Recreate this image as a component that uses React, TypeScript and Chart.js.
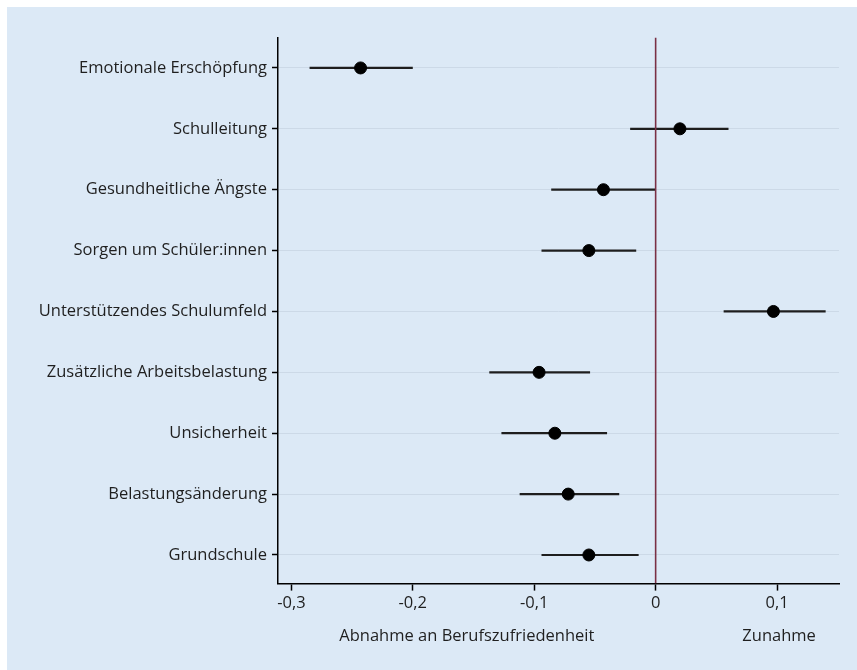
import React, { useEffect, useRef } from "react";
import { Chart, registerables } from "chart.js";

Chart.register(...registerables);

const categories = [
  "Emotionale Erschöpfung",
  "Schulleitung",
  "Gesundheitliche Ängste",
  "Sorgen um Schüler:innen",
  "Unterstützendes Schulumfeld",
  "Zusätzliche Arbeitsbelastung",
  "Unsicherheit",
  "Belastungsänderung",
  "Grundschule",
];
const estimates = [-0.243, 0.02, -0.043, -0.055, 0.097, -0.096, -0.083, -0.072, -0.055];
const ciLower = [-0.285, -0.021, -0.086, -0.094, 0.056, -0.137, -0.127, -0.112, -0.094];
const ciUpper = [-0.2, 0.06, 0.0, -0.016, 0.14, -0.054, -0.04, -0.03, -0.014];
const xTicks = [-0.3, -0.2, -0.1, 0, 0.1];
const xTickLabels = ["-0,3", "-0,2", "-0,1", "0", "0,1"];
const axisNotes = ["Abnahme an Berufszufriedenheit", "Zunahme"];

const X_MIN = -0.311;
const X_MAX = 0.151;
const Y_MIN = 0.5;
const Y_MAX = 9.47;

const FONT = "'Open Sans', 'Noto Sans', sans-serif";
const FONT_SIZE = 16.5;
const TEXT = "#1f1f1f";

export default function App() {
  const ref = useRef<HTMLCanvasElement | null>(null);

  useEffect(() => {
    if (!ref.current) return;

    const ciSets = categories.map((_, i) => ({
      type: "line" as const,
      data: [
        { x: ciLower[i], y: i + 1 },
        { x: ciUpper[i], y: i + 1 },
      ],
      borderColor: "#1e1e1e",
      borderWidth: 2.2,
      pointRadius: 0,
      showLine: true,
      order: 2,
    }));

    const zeroLine = {
      type: "line" as const,
      data: [
        { x: 0, y: Y_MIN },
        { x: 0, y: Y_MAX },
      ],
      borderColor: "#7a3045",
      borderWidth: 1.6,
      pointRadius: 0,
      showLine: true,
      order: 1,
    };

    const points = {
      type: "scatter" as const,
      data: estimates.map((v, i) => ({ x: v, y: i + 1 })),
      backgroundColor: "#000",
      borderColor: "#000",
      pointRadius: 6,
      pointHoverRadius: 6,
      order: 0,
    };

    const notesPlugin = {
      id: "notes",
      afterDraw(chart: any) {
        const { ctx, chartArea, scales } = chart;
        const xs = scales.x;
        ctx.save();
        ctx.font = `${FONT_SIZE}px ${FONT}`;
        ctx.fillStyle = TEXT;
        ctx.textAlign = "center";
        ctx.textBaseline = "middle";
        const y = chartArea.bottom + 53;
        ctx.fillText(axisNotes[0], (xs.getPixelForValue(xs.min) + xs.getPixelForValue(0)) / 2, y);
        ctx.fillText(axisNotes[1], xs.getPixelForValue(xTicks[4]) + 2, y);
        ctx.restore();
      },
    };

    const chart = new Chart(ref.current, {
      type: "scatter",
      data: { datasets: [...ciSets, zeroLine, points] as any },
      options: {
        animation: false,
        responsive: true,
        maintainAspectRatio: false,
        layout: { padding: { top: 30.5, right: 18, left: 0, bottom: 0 } },
        plugins: {
          legend: { display: false },
          tooltip: { enabled: false },
        },
        scales: {
          x: {
            type: "linear",
            min: X_MIN,
            max: X_MAX,
            afterBuildTicks: (s: any) => {
              s.ticks = xTicks.map((v) => ({ value: v }));
            },
            afterFit: (s: any) => {
              s.height = 86.4;
            },
            ticks: {
              callback: (_v: any, i: number) => xTickLabels[i],
              font: { family: FONT, size: FONT_SIZE },
              color: TEXT,
              padding: 3,
              maxRotation: 0,
            },
            grid: {
              drawOnChartArea: false,
              drawTicks: true,
              tickLength: 7,
              tickColor: "#000",
              tickWidth: 1.5,
            },
            border: { color: "#000", width: 1.5 },
          },
          y: {
            type: "linear",
            reverse: true,
            min: Y_MIN,
            max: Y_MAX,
            afterBuildTicks: (s: any) => {
              s.ticks = categories.map((_, i) => ({ value: i + 1 }));
            },
            afterFit: (s: any) => {
              s.width = 271;
            },
            ticks: {
              callback: (v: any) => categories[Math.round(Number(v)) - 1],
              font: { family: FONT, size: FONT_SIZE },
              color: TEXT,
              padding: 5,
            },
            grid: {
              color: "#ccd9e7",
              lineWidth: 1,
              tickLength: 6,
              tickColor: "#000",
              tickWidth: 1.5,
            },
            border: { color: "#000", width: 1.5 },
          },
        },
      },
      plugins: [notesPlugin],
    });

    return () => chart.destroy();
  }, []);

  return (
    <div
      style={{
        position: "absolute",
        left: 7,
        top: 7,
        width: 850,
        height: 663,
        background: "#dce9f6",
      }}
    >
      <canvas ref={ref} />
    </div>
  );
}
